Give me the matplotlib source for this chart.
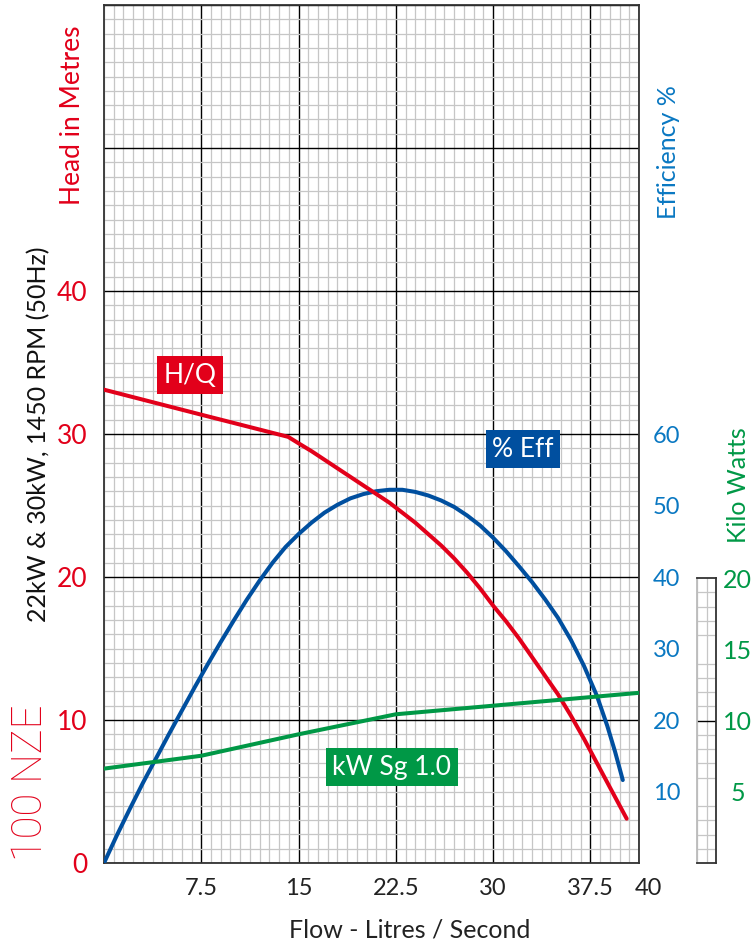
import matplotlib
matplotlib.use("Agg")
import matplotlib.pyplot as plt
import matplotlib.transforms as mtrans
from matplotlib.ticker import MultipleLocator, FixedLocator

plt.rcParams['font.family'] = ['Lato', 'DejaVu Sans']

# --------------------------
# Data
# --------------------------

# H/Q curve (head in metres vs flow in L/s)
hq_flow = [0, 7.5, 14.2, 15, 16, 17, 18, 19, 20, 21, 22, 23, 24, 25, 26, 27, 28, 29,
           30, 31, 32, 33, 34, 35, 36, 37, 38, 39, 40.3]
hq_head = [33.1, 31.35, 29.8, 29.35, 28.8, 28.2, 27.6, 27.0, 26.4, 25.8, 25.2, 24.5,
           23.8, 23.0, 22.2, 21.3, 20.3, 19.2, 18.0, 16.9, 15.7, 14.4, 13.1, 11.8,
           10.3, 8.7, 7.0, 5.3, 3.1]

# efficiency curve (%)
eff_flow = [0, 1, 2, 3, 4, 5, 6, 7, 8, 9, 10, 11, 12, 13, 14, 15, 16, 17, 18, 19, 20,
            21, 22, 23, 24, 25, 26, 27, 28, 29, 30, 31, 32, 33, 34, 35, 36, 37, 38,
            38.8, 39.4, 40]
eff_pct = [0, 3.9, 7.6, 11.2, 14.6, 18.0, 21.3, 24.6, 27.8, 30.9, 33.9, 36.8, 39.5,
           42.0, 44.2, 46.0, 47.6, 49.0, 50.1, 51.0, 51.6, 52.0, 52.2, 52.2, 51.9,
           51.4, 50.7, 49.8, 48.6, 47.2, 45.5, 43.6, 41.5, 39.3, 36.9, 34.3, 31.2,
           27.6, 23.4, 19.2, 15.6, 11.6]

# power curve (kW, Sg 1.0)
kw_flow = [0, 7.5, 15, 22.5, 30, 41.25]
kw_power = [6.6, 7.5, 9.0, 10.4, 11.0, 11.9]

flow_ticks = [7.5, 15, 22.5, 30, 37.5, 41.25]
flow_labels = ['7.5', '15', '22.5', '30', '37.5', '40']
head_ticks = [0, 10, 20, 30, 40, 50, 60]
head_labels = ['0', '10', '20', '30', '40', '', '']
eff_ticks = [10, 20, 30, 40, 50, 60]
kw_ticks = [5, 10, 15, 20]

RED = '#e2001a'
BLUE = '#004f9f'
EFF_TXT = '#0a78c2'
GREEN = '#009846'
MINOR = '#c6c6c6'

# --------------------------
# Main axes
# --------------------------

fig = plt.figure(figsize=(7.53, 9.48), dpi=100)
W, H = 753, 948
ax = fig.add_axes([104 / W, 85 / H, 535 / W, 858 / H])
ax.set_xlim(0, 41.25)
ax.set_ylim(0, 60)

ax.xaxis.set_major_locator(FixedLocator(flow_ticks))
ax.set_xticklabels(flow_labels)
ax.xaxis.set_minor_locator(MultipleLocator(0.75))
ax.set_yticks(head_ticks)
ax.set_yticklabels(head_labels)
ax.yaxis.set_minor_locator(MultipleLocator(1))

ax.set_axisbelow(True)
ax.grid(which='minor', color=MINOR, lw=0.9)
ax.grid(which='major', color='black', lw=1.0)
ax.tick_params(which='both', length=0)
ax.tick_params(axis='x', labelsize=17, pad=11, labelcolor='#222222')
ax.tick_params(axis='y', labelsize=19, pad=12, labelcolor=RED)
for s in ax.spines.values():
    s.set_color('#333333')
    s.set_linewidth(1.3)

# shift the "40" label a little to the right, as in the original
lbl40 = ax.get_xticklabels()[-1]
lbl40.set_transform(lbl40.get_transform() + mtrans.ScaledTranslation(9 / 100, 0, fig.dpi_scale_trans))

# efficiency axis (twice the head scale)
ax2 = ax.twinx()
ax2.set_ylim(0, 120)
ax2.set_yticks(eff_ticks)
ax2.tick_params(length=0, labelsize=17, pad=10, labelcolor=EFF_TXT)
for s in ax2.spines.values():
    s.set_visible(False)

ax2.plot(eff_flow, eff_pct, color=BLUE, lw=2.9, solid_capstyle='round')
ax2.plot(hq_flow, hq_head, color=RED, lw=2.9, solid_capstyle='round', transform=ax.transData)
ax2.plot(kw_flow, kw_power, color=GREEN, lw=2.9, solid_capstyle='round', transform=ax.transData)

# curve labels
ax.text(6.63, 34.1, 'H/Q', color='white', fontsize=19, ha='center', va='center',
        bbox=dict(boxstyle='square,pad=0.25', fc=RED, ec='none'))
ax.text(32.3, 28.95, '% Eff', color='white', fontsize=19, ha='center', va='center',
        bbox=dict(boxstyle='square,pad=0.25', fc=BLUE, ec='none'))
ax.text(22.2, 6.7, 'kW Sg 1.0', color='white', fontsize=19, ha='center', va='center',
        bbox=dict(boxstyle='square,pad=0.25', fc=GREEN, ec='none'))

# --------------------------
# Kilo Watts panel
# --------------------------

axk = fig.add_axes([697 / W, 85 / H, 19 / W, 285 / H])
axk.set_xlim(0, 1.5)
axk.set_ylim(0, 20)
axk.xaxis.set_minor_locator(MultipleLocator(0.75))
axk.yaxis.set_minor_locator(MultipleLocator(1))
axk.set_xticks([])
axk.set_yticks(kw_ticks)
axk.yaxis.tick_right()
axk.set_axisbelow(True)
axk.grid(which='minor', color=MINOR, lw=0.9)
axk.axhline(10, color='black', lw=1.0)
axk.tick_params(which='both', length=0)
axk.tick_params(axis='y', labelsize=18, pad=15.5, labelcolor=GREEN)
for t in axk.get_yticklabels():
    t.set_horizontalalignment('center')
for name, s in axk.spines.items():
    s.set_color('#bbbbbb' if name == 'left' else '#333333')
    s.set_linewidth(1.3)

# --------------------------
# Titles and axis names
# --------------------------

fig.text(410 / W, 1 - 930 / H, 'Flow - Litres / Second', fontsize=18, color='#222222',
         ha='center', va='center')
fig.text(73 / W, 1 - 115 / H, 'Head in Metres', fontsize=19, color=RED,
         rotation=90, ha='center', va='center')
fig.text(668 / W, 1 - 152 / H, 'Efficiency %', fontsize=18, color=EFF_TXT,
         rotation=90, ha='center', va='center')
fig.text(738 / W, 1 - 485 / H, 'Kilo Watts', fontsize=18, color=GREEN,
         rotation=90, ha='center', va='center')
fig.text(39 / W, 1 - 434 / H, '22kW & 30kW, 1450 RPM (50Hz)', fontsize=18, color='#111111',
         rotation=90, ha='center', va='center')
fig.text(31 / W, 1 - 783 / H, '100 NZE', fontsize=30, color=RED,
         family=['Roboto', 'DejaVu Sans'], fontweight='light',
         rotation=90, ha='center', va='center')

fig.savefig('out.png', dpi=100)
